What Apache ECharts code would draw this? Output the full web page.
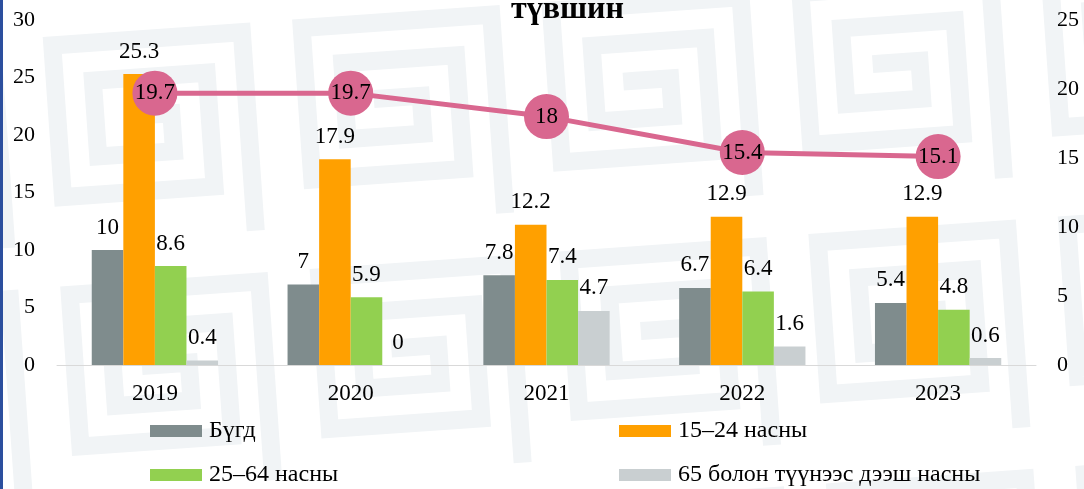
<!DOCTYPE html>
<html>
<head>
<meta charset="utf-8">
<script src="https://cdn.jsdelivr.net/npm/echarts@6/dist/echarts.min.js"></script>
<style>
html,body{margin:0;padding:0;width:1084px;height:489px;overflow:hidden;background:#fff;}
#wrap{position:relative;width:1084px;height:489px;}
#bg{position:absolute;left:0;top:0;}
#chart{position:absolute;left:0;top:0;width:1084px;height:489px;}
#edge{position:absolute;left:0;top:0;width:3px;height:489px;background:#2c4f9e;}
</style>
</head>
<body>
<div id="wrap">
<canvas id="bg" width="1084" height="489"></canvas>
<div id="chart"></div>
<div id="edge"></div>
</div>
<script>
const categories = ['2019', '2020', '2021', '2022', '2023'];
const totalValues = [10, 7, 7.8, 6.7, 5.4];
const age15to24 = [25.3, 17.9, 12.2, 12.9, 12.9];
const age25to64 = [8.6, 5.9, 7.4, 6.4, 4.8];
const age65plus = [0.4, 0, 4.7, 1.6, 0.6];
const rateLine = [19.7, 19.7, 18, 15.4, 15.1];
const seriesNames = ['Бүгд', '15–24 насны', '25–64 насны', '65 болон түүнээс дээш насны'];
const leftTicks = [0, 30, 5];
const rightTicks = [0, 25, 5];

// decorative meander background
(function () {
  const c = document.getElementById('bg');
  const ctx = c.getContext('2d');
  ctx.fillStyle = '#ffffff';
  ctx.fillRect(0, 0, c.width, c.height);
  ctx.strokeStyle = '#f1f4f6';
  ctx.lineWidth = 18;
  ctx.lineCap = 'square';
  const T = 250;
  ctx.save();
  ctx.rotate(-0.07);
  for (let ox = -2 * T; ox < c.width + 2 * T; ox += T) {
    for (let oy = -2 * T; oy < c.height + 2 * T; oy += T) {
      ctx.beginPath();
      let x = ox + T / 2, y = oy + T / 2;
      ctx.moveTo(x, y);
      let step = 38, dir = 0;
      const dx = [1, 0, -1, 0], dy = [0, 1, 0, -1];
      for (let i = 0; i < 10; i++) {
        const len = step * (Math.floor(i / 2) + 1);
        x += dx[dir] * len; y += dy[dir] * len;
        ctx.lineTo(x, y);
        dir = (dir + 1) % 4;
      }
      ctx.stroke();
    }
  }
  ctx.restore();
})();

const serif = 'Liberation Serif';
const chart = echarts.init(document.getElementById('chart'), null, { renderer: 'canvas' });
const colors = ['#7f8c8d', '#ffa000', '#92d050', '#c9cfd1'];
const barData = [totalValues, age15to24, age25to64, age65plus];

const barSeries = barData.map((d, i) => ({
  name: seriesNames[i],
  type: 'bar',
  data: d,
  yAxisIndex: 0,
  barGap: '0%',
  barCategoryGap: '35.5%',
  itemStyle: { color: colors[i] },
  label: {
    show: true, position: 'top', distance: 11,
    fontFamily: serif, fontSize: 23, color: '#000'
  },
  z: 2
}));

function legendAt(name, left, top) {
  return {
    data: [name], left: left, top: top,
    itemWidth: 52, itemHeight: 12, itemGap: 0,
    icon: 'rect', padding: 0,
    textStyle: { fontFamily: serif, fontSize: 24, color: '#000', padding: [0, 0, 0, 2] },
    selectedMode: false
  };
}

chart.setOption({
  backgroundColor: 'transparent',
  animation: false,
  title: {
    text: 'түвшин', left: 506, top: -11,
    textStyle: { fontFamily: serif, fontSize: 32, fontWeight: 'bold', color: '#000' }
  },
  legend: [
    legendAt(seriesNames[0], 150, 419),
    legendAt(seriesNames[1], 619, 419),
    legendAt(seriesNames[2], 150, 463),
    legendAt(seriesNames[3], 619, 463)
  ],
  grid: { left: 57, right: 48, top: 20, bottom: 124, containLabel: false },
  xAxis: {
    type: 'category', data: categories,
    axisLine: { show: true, lineStyle: { color: '#d9d9d9', width: 1 } },
    axisTick: { show: false },
    axisLabel: { fontFamily: serif, fontSize: 23, color: '#000', margin: 17 }
  },
  yAxis: [
    {
      type: 'value', min: leftTicks[0], max: leftTicks[1], interval: leftTicks[2],
      splitLine: { show: false }, axisLine: { show: false }, axisTick: { show: false },
      axisLabel: { fontFamily: serif, fontSize: 22, color: '#000', margin: 22 }
    },
    {
      type: 'value', min: rightTicks[0], max: rightTicks[1], interval: rightTicks[2],
      position: 'right',
      splitLine: { show: false }, axisLine: { show: false }, axisTick: { show: false },
      axisLabel: { fontFamily: serif, fontSize: 22, color: '#000', margin: 21 }
    }
  ],
  series: barSeries.concat([{
    name: 'rate',
    type: 'line',
    yAxisIndex: 1,
    data: rateLine,
    symbol: 'circle',
    symbolSize: 45,
    lineStyle: { color: '#d9678f', width: 5 },
    itemStyle: { color: '#d9678f' },
    label: {
      show: true, position: 'inside',
      fontFamily: serif, fontSize: 23, color: '#000'
    },
    z: 5
  }])
});
</script>
</body>
</html>
